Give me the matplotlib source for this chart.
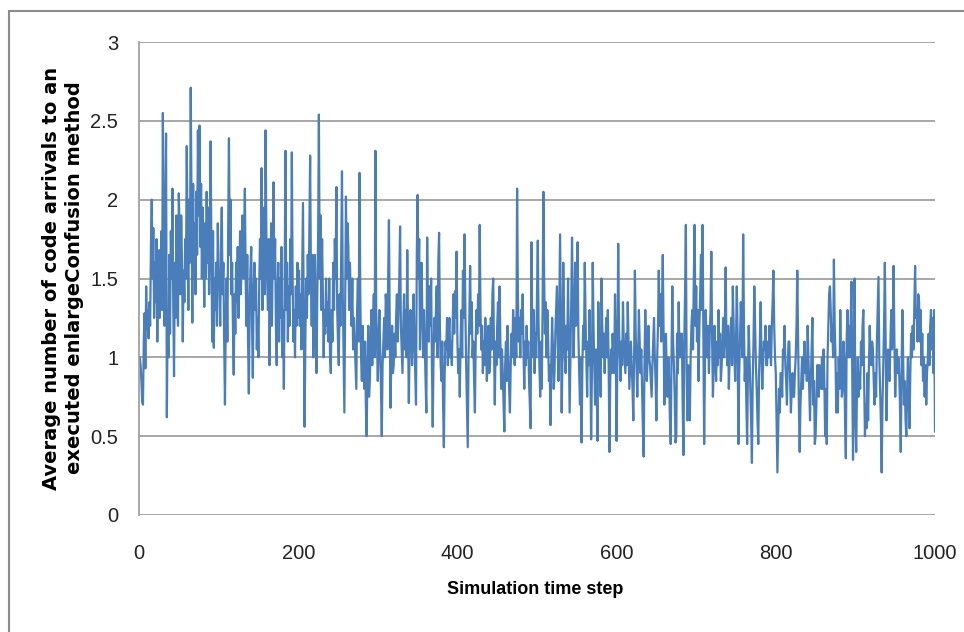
import numpy as np
import matplotlib
matplotlib.use('Agg')
import matplotlib.pyplot as plt
from matplotlib.patches import Rectangle

# 数据：每一步的平均到达次数（单位 0.01），按 100 步分块
vals_0 = [100, 95, 85, 72, 70, 110, 128, 93, 145, 118,
          130, 112, 135, 120, 170, 200, 150, 182, 125, 160,
          135, 175, 110, 150, 168, 125, 140, 180, 130, 255,
          160, 120, 195, 242, 62, 130, 100, 165, 115, 180,
          150, 207, 135, 88, 160, 125, 190, 145, 120, 204,
          180, 140, 190, 160, 110, 155, 135, 175, 150, 234,
          175, 130, 200, 160, 271, 195, 122, 210, 150, 185,
          140, 205, 165, 244, 190, 247, 170, 210, 150, 195,
          175, 132, 185, 150, 205, 160, 195, 140, 180, 237,
          165, 110, 180, 106, 150, 130, 160, 120, 185, 150]
vals_1 = [150, 120, 170, 195, 140, 160, 110, 70, 125, 150,
          110, 180, 239, 165, 200, 140, 160, 120, 89, 140,
          115, 160, 135, 170, 125, 150, 180, 140, 165, 190,
          150, 175, 207, 150, 120, 165, 110, 77, 130, 155,
          170, 120, 87, 140, 160, 130, 150, 105, 125, 100,
          145, 175, 150, 220, 130, 170, 195, 140, 244, 180,
          150, 130, 175, 95, 140, 185, 120, 165, 211, 150,
          175, 120, 95, 140, 160, 110, 150, 125, 170, 100,
          130, 80, 150, 231, 130, 160, 110, 145, 120, 175,
          140, 230, 150, 110, 130, 100, 145, 120, 160, 125]
vals_2 = [155, 120, 140, 105, 150, 198, 130, 56, 110, 150,
          125, 165, 140, 180, 228, 150, 120, 165, 100, 130,
          165, 120, 90, 140, 175, 254, 150, 190, 130, 175,
          140, 100, 130, 115, 150, 120, 135, 110, 150, 100,
          90, 130, 110, 160, 130, 175, 150, 208, 130, 110,
          95, 140, 120, 165, 218, 140, 100, 65, 130, 202,
          150, 185, 170, 130, 160, 140, 120, 150, 105, 125,
          110, 95, 80, 130, 150, 110, 217, 140, 100, 85,
          120, 95, 80, 110, 70, 50, 95, 120, 75, 85,
          110, 130, 95, 120, 140, 100, 231, 130, 110, 85]
vals_3 = [110, 130, 105, 80, 50, 95, 110, 125, 100, 140,
          130, 105, 150, 187, 120, 68, 100, 120, 90, 95,
          115, 100, 125, 140, 110, 130, 150, 183, 120, 105,
          90, 120, 140, 105, 130, 100, 168, 115, 71, 110,
          130, 120, 95, 115, 140, 110, 90, 70, 165, 203,
          150, 175, 105, 140, 160, 125, 100, 130, 110, 85,
          65, 176, 130, 110, 145, 120, 150, 95, 56, 100,
          125, 110, 130, 145, 100, 160, 179, 120, 95, 85,
          110, 70, 43, 90, 110, 105, 125, 95, 115, 125,
          100, 110, 95, 120, 140, 115, 142, 125, 167, 110]
vals_4 = [90, 105, 75, 110, 130, 100, 155, 125, 178, 130,
          95, 70, 43, 100, 125, 158, 115, 135, 100, 110,
          85, 65, 110, 130, 115, 140, 120, 184, 130, 105,
          120, 90, 110, 95, 125, 110, 85, 100, 120, 90,
          95, 125, 105, 140, 150, 105, 70, 110, 95, 120,
          135, 100, 145, 110, 80, 105, 90, 70, 53, 95,
          110, 85, 120, 100, 80, 65, 95, 115, 100, 130,
          110, 95, 125, 100, 207, 140, 110, 125, 100, 130,
          115, 140, 105, 80, 110, 95, 120, 100, 110, 85,
          70, 55, 173, 120, 100, 130, 90, 115, 100, 140]
vals_5 = [174, 120, 95, 75, 110, 80, 130, 205, 150, 115,
          135, 100, 130, 110, 85, 95, 57, 100, 125, 105,
          80, 90, 115, 130, 145, 110, 85, 130, 178, 120,
          65, 100, 160, 125, 100, 90, 120, 105, 150, 110,
          65, 100, 135, 176, 130, 100, 125, 160, 120, 140,
          173, 115, 90, 70, 100, 46, 95, 120, 105, 160,
          125, 100, 75, 110, 95, 130, 100, 48, 90, 160,
          120, 95, 70, 105, 85, 47, 135, 110, 90, 75,
          150, 120, 100, 115, 90, 110, 125, 100, 130, 95,
          40, 85, 105, 90, 115, 100, 90, 140, 105, 47]
vals_6 = [100, 172, 120, 100, 85, 110, 95, 135, 110, 100,
          90, 115, 95, 135, 110, 80, 95, 110, 95, 80,
          60, 100, 155, 115, 95, 75, 100, 130, 110, 90,
          105, 80, 55, 37, 95, 130, 110, 85, 100, 120,
          100, 95, 85, 75, 95, 110, 125, 100, 85, 60,
          100, 120, 155, 120, 140, 110, 130, 165, 120, 70,
          95, 115, 90, 75, 100, 85, 60, 45, 100, 145,
          110, 95, 75, 46, 50, 115, 90, 135, 100, 115,
          100, 115, 70, 38, 110, 140, 184, 90, 60, 95,
          75, 60, 100, 120, 130, 105, 150, 184, 120, 145]
vals_7 = [110, 130, 85, 120, 140, 165, 130, 184, 110, 45,
          95, 130, 110, 100, 120, 90, 115, 130, 167, 110,
          75, 95, 120, 100, 85, 110, 95, 130, 100, 115,
          85, 95, 110, 125, 100, 120, 157, 110, 95, 120,
          80, 100, 115, 125, 95, 145, 120, 100, 85, 110,
          145, 115, 45, 90, 110, 135, 120, 100, 178, 120,
          85, 100, 70, 45, 90, 120, 100, 80, 60, 33,
          85, 110, 145, 120, 95, 80, 60, 45, 90, 110,
          135, 100, 80, 95, 110, 105, 120, 95, 95, 110,
          100, 120, 105, 95, 120, 135, 155, 120, 100, 90]
vals_8 = [60, 27, 55, 80, 65, 90, 90, 75, 105, 100,
          120, 95, 85, 70, 95, 110, 110, 85, 65, 80,
          90, 75, 75, 90, 100, 120, 155, 110, 70, 40,
          70, 85, 100, 80, 95, 110, 90, 100, 85, 120,
          100, 80, 60, 85, 105, 125, 70, 85, 45, 50,
          70, 95, 95, 75, 95, 85, 80, 100, 80, 105,
          85, 50, 80, 45, 100, 120, 140, 145, 130, 110,
          120, 100, 162, 120, 100, 65, 90, 65, 100, 80,
          130, 95, 75, 80, 110, 100, 60, 36, 110, 130,
          100, 120, 100, 120, 148, 90, 35, 100, 150, 60]
vals_9 = [40, 80, 100, 75, 90, 80, 110, 95, 120, 130,
          85, 50, 70, 55, 90, 60, 95, 120, 100, 95,
          110, 105, 85, 70, 90, 75, 110, 130, 151, 100,
          80, 60, 27, 70, 95, 120, 160, 110, 60, 85,
          105, 90, 85, 110, 130, 105, 120, 158, 110, 75,
          95, 105, 90, 100, 90, 70, 40, 90, 130, 100,
          70, 85, 60, 50, 80, 100, 75, 55, 90, 115,
          100, 120, 105, 130, 158, 125, 130, 110, 140, 135,
          110, 130, 95, 115, 85, 100, 75, 95, 70, 90,
          100, 115, 95, 120, 130, 105, 125, 90, 130, 53]

x_ticks = [0, 200, 400, 600, 800, 1000]
y_ticks = [0, 0.5, 1, 1.5, 2, 2.5, 3]
y_tick_labels = ['0', '0.5', '1', '1.5', '2', '2.5', '3']

y = np.array(vals_0 + vals_1 + vals_2 + vals_3 + vals_4 +
             vals_5 + vals_6 + vals_7 + vals_8 + vals_9) / 100.0
steps = np.arange(1, len(y) + 1)

sans = ['Liberation Sans', 'DejaVu Sans']
grid_col = '#a0a0a0'

fig = plt.figure(figsize=(9.64, 6.32), dpi=100)
W, H = 964, 632
ax = fig.add_axes([139 / W, 1 - 515 / H, (935 - 139) / W, (515 - 42) / H])

ax.plot(steps, y, color='#4a7ebb', lw=1.6)

ax.set_xlim(0, 1000)
ax.set_ylim(0, 3)
ax.set_xticks(x_ticks)
ax.set_yticks(y_ticks)
ax.set_yticklabels(y_tick_labels)
ax.tick_params(length=0, labelsize=14.5, colors='#222222')
ax.tick_params(axis='y', pad=15)
ax.tick_params(axis='x', pad=21)
for lab in ax.get_xticklabels() + ax.get_yticklabels():
    lab.set_family(sans)

ax.grid(axis='y', color=grid_col, lw=1.3)
ax.set_axisbelow(True)
for s in ['top', 'right', 'bottom']:
    ax.spines[s].set_visible(False)
ax.spines['left'].set_color(grid_col)
ax.spines['left'].set_linewidth(1.3)

# 坐标轴标题
fig.text(535 / W, 1 - 590 / H, 'Simulation time step', ha='center', va='center',
         fontsize=13, fontweight='bold', family=sans)
fig.text(63 / W, 1 - 278 / H,
         'Average number of code arrivals to an\nexecuted enlargeConfusion method',
         rotation=90, ha='center', va='center', multialignment='center',
         fontsize=14, fontweight='bold', linespacing=1.25, family=['DejaVu Sans'])

# 外框
fig.add_artist(Rectangle((9 / W, -0.1), 1.2, 1.1 - 11 / H, transform=fig.transFigure,
                         fill=False, edgecolor='#8c8c8c', lw=1.5))

fig.savefig('out.png', dpi=100)
